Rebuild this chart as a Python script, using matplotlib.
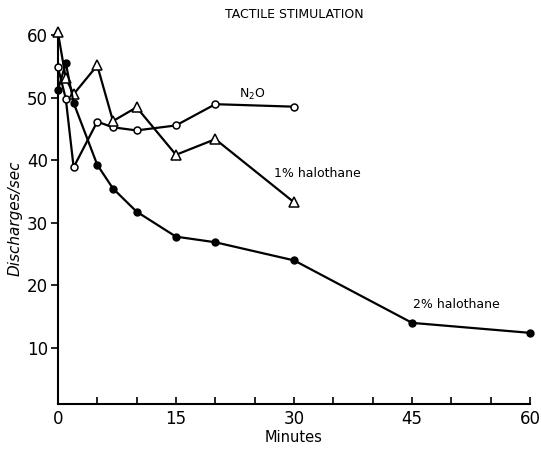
import matplotlib
matplotlib.use("Agg")
import matplotlib.pyplot as plt
from matplotlib.ticker import MultipleLocator

# values
minutes_short = [0, 1, 2, 5, 7, 10, 15, 20, 30]
n2o = [54.9, 49.9, 38.9, 46.2, 45.3, 44.8, 45.6, 49.0, 48.6]
halo1 = [60.5, 53.2, 50.6, 55.2, 46.3, 48.5, 40.9, 43.4, 33.3]

minutes_long = [0, 1, 2, 5, 7, 10, 15, 20, 30, 45, 60]
halo2 = [51.2, 55.6, 49.2, 39.3, 35.5, 31.8, 27.8, 26.9, 24.0, 14.0, 12.4]

x_ticks = [0, 15, 30, 45, 60]
y_ticks = [10, 20, 30, 40, 50, 60]

plt.rcParams['font.family'] = ['DejaVu Sans']

fig = plt.figure(figsize=(5.41, 4.49), dpi=100)
ax = fig.add_axes([0.107, 0.10, 0.873, 0.828])

ax.plot(minutes_short, n2o, color='black', lw=1.6, marker='o', ms=5,
        mfc='white', mec='black', mew=1.1, clip_on=False, zorder=3)
ax.plot(minutes_short, halo1, color='black', lw=1.6, marker='^', ms=6.5,
        mfc='white', mec='black', mew=1.1, clip_on=False, zorder=3)
ax.plot(minutes_long, halo2, color='black', lw=1.6, marker='o', ms=5,
        mfc='black', mec='black', clip_on=False, zorder=3)

ax.text(24.7, 50.6, 'N$_2$O', fontsize=9, ha='center', va='center')
ax.text(33.0, 37.9, '1% halothane', fontsize=9, ha='center', va='center')
ax.text(50.6, 16.9, '2% halothane', fontsize=9, ha='center', va='center')

ax.set_xlim(0, 60)
ax.set_ylim(1, 60.5)
ax.set_xticks(x_ticks)
ax.set_yticks(y_ticks)
ax.xaxis.set_minor_locator(MultipleLocator(5))

for side in ['top', 'right']:
    ax.spines[side].set_visible(False)
for side in ['left', 'bottom']:
    ax.spines[side].set_linewidth(1.5)

ax.tick_params(axis='x', which='both', direction='in', length=5, width=1.2,
               labelsize=12, pad=4)
ax.tick_params(axis='y', which='major', direction='out', length=5, width=1.2,
               labelsize=12, pad=2)

ax.set_title('TACTILE STIMULATION', fontsize=9, pad=10)
ax.set_xlabel('Minutes', fontsize=10.5, labelpad=2)
ax.set_ylabel('Discharges/sec', fontsize=11, style='italic', labelpad=3)

fig.savefig('out.png', dpi=100)
